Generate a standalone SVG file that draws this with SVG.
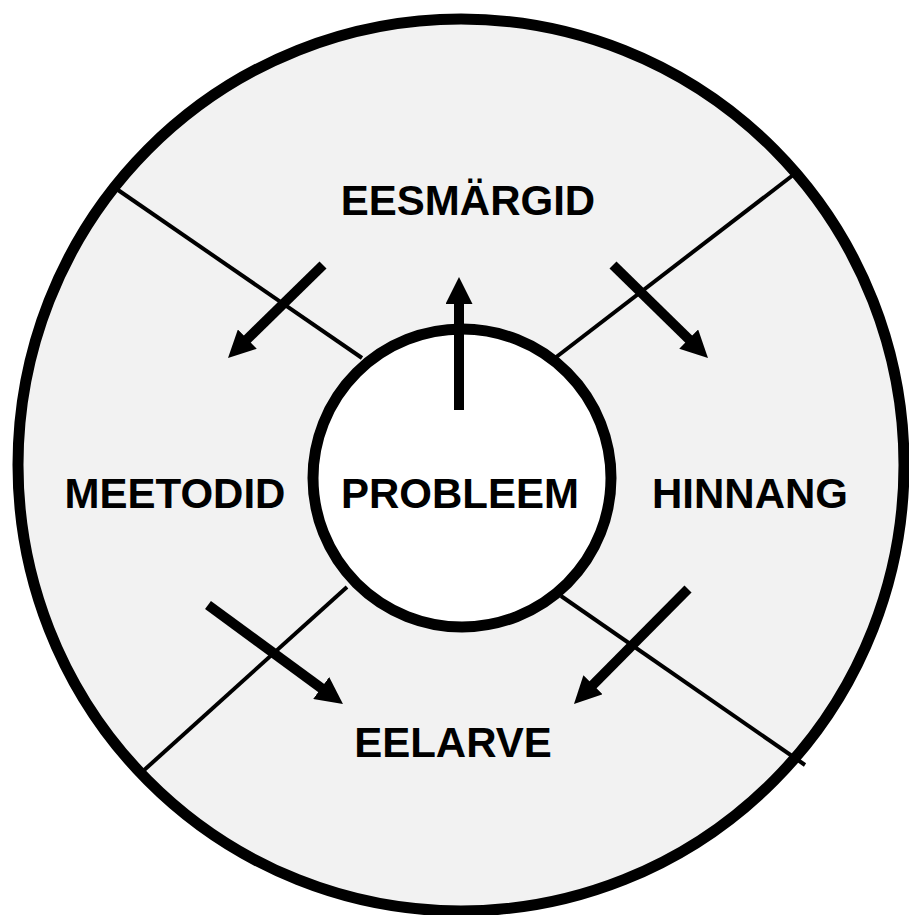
<svg xmlns="http://www.w3.org/2000/svg" width="909" height="915" viewBox="0 0 909 915">
<style>
.lbl{font-family:"Liberation Sans",Arial,sans-serif;font-weight:bold;font-size:42px;fill:#000;text-anchor:middle}
.div{stroke:#000;stroke-width:4;fill:none}
.arr{stroke:#000;stroke-width:10;fill:none}
</style>
<defs>
<marker id="ah" viewBox="0 0 27 27" refX="1" refY="13.5" markerWidth="27" markerHeight="27" markerUnits="userSpaceOnUse" orient="auto">
<path d="M0,0 L27,13.5 L0,27 z" fill="#000"/>
</marker>
</defs>
<g id="outer">
<ellipse cx="461" cy="465" rx="443" ry="446" fill="#f2f2f2" stroke="#000" stroke-width="11"/>
</g>
<g id="connectors">
<line class="div" x1="118" y1="190" x2="362" y2="358"/>
<line class="div" x1="797" y1="172" x2="555" y2="358"/>
<line class="div" x1="142" y1="772" x2="347" y2="587"/>
<line class="div" x1="805" y1="765" x2="561" y2="596"/>
<line class="arr" x1="323" y1="265" x2="246.6" y2="339.8" marker-end="url(#ah)"/>
<line class="arr" x1="613" y1="265" x2="689.4" y2="339.8" marker-end="url(#ah)"/>
<line class="arr" x1="208" y1="605" x2="322" y2="688.6" marker-end="url(#ah)"/>
<line class="arr" x1="688" y1="589" x2="592.3" y2="685.5" marker-end="url(#ah)"/>
</g>
<g id="center">
<circle cx="462" cy="478" r="149" fill="#fff" stroke="#000" stroke-width="11"/>
</g>
<g id="up-arrow">
<line class="arr" x1="459" y1="410" x2="459" y2="303" marker-end="url(#ah)"/>
</g>
<g id="n-eesmargid"><text class="lbl" x="468" y="215">EESMÄRGID</text></g>
<g id="n-meetodid"><text class="lbl" x="175" y="508">MEETODID</text></g>
<g id="n-probleem"><text class="lbl" x="460" y="508">PROBLEEM</text></g>
<g id="n-hinnang"><text class="lbl" x="750" y="508">HINNANG</text></g>
<g id="n-eelarve"><text class="lbl" x="453" y="757">EELARVE</text></g>
</svg>
